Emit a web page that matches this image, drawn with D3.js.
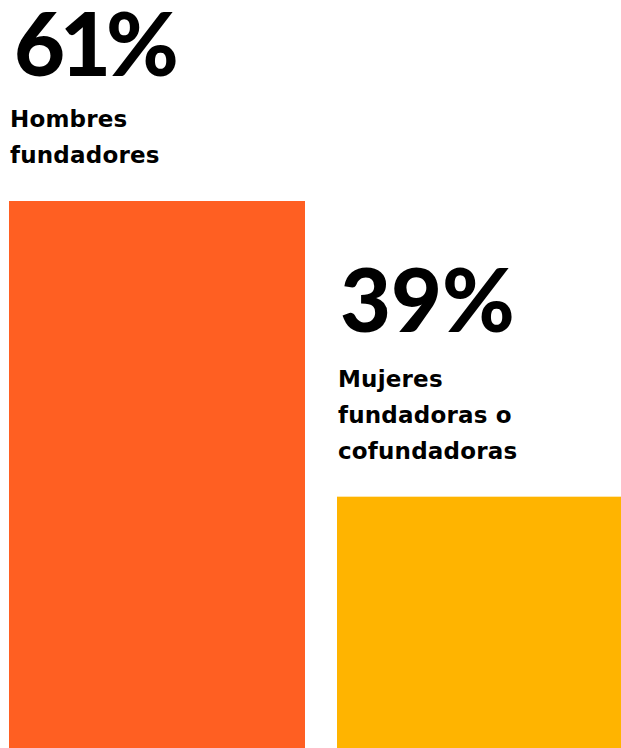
<!DOCTYPE html>
<html><head><meta charset="utf-8">
<script src="https://cdn.jsdelivr.net/npm/d3@7"></script>
<style>html,body{margin:0;padding:0;background:#fff;overflow:hidden}</style>
</head><body>
<svg id="c" width="621" height="748"></svg>
<script>
const categories = ["Hombres fundadores", "Mujeres fundadoras o cofundadoras"];
const values = [61, 39];
const valueLabels = ["61%", "39%"];
const labelLines = [["Hombres", "fundadores"], ["Mujeres", "fundadoras o", "cofundadoras"]];
const colors = ["#FF5F22", "#FFB400"];

const W = 621, H = 748;
const svg = d3.select("#c");
const x = d3.scaleBand().domain(categories).range([9, 633]).paddingInner(32/328).paddingOuter(0);
const y = d3.scaleLinear().domain([20.3, 61]).range([H, 201]);

const g = svg.selectAll("g.bar").data(categories).join("g").attr("class","bar");
g.append("rect")
  .attr("x", d => x(d))
  .attr("y", (d,i) => y(values[i]))
  .attr("width", x.bandwidth())
  .attr("height", (d,i) => H - y(values[i]))
  .attr("fill", (d,i) => colors[i]);

g.append("text")
  .attr("x", (d,i) => x(d) + (i === 0 ? 5 : 3))
  .attr("y", (d,i) => y(values[i]) - 125 - (labelLines[i].length - 2) * 40)
  .attr("font-family", "Lato, sans-serif")
  .attr("font-weight", 900)
  .attr("font-size", 88)
  .attr("letter-spacing", (d,i) => i === 0 ? -5 : 0)
  .attr("fill", "#000")
  .text((d,i) => valueLabels[i]);

g.each(function(d,i){
  const t = d3.select(this).append("text")
    .attr("font-family", "'DejaVu Sans', sans-serif")
    .attr("font-weight", 700)
    .attr("font-size", 23)
    .attr("letter-spacing", 0.2)
    .attr("fill", "#000");
  const n = labelLines[i].length;
  labelLines[i].forEach((line, j) => {
    t.append("tspan")
      .attr("x", x(d) + 1)
      .attr("y", y(values[i]) - 38 - (n - 1 - j) * 36)
      .text(line);
  });
});
</script>
</body></html>
